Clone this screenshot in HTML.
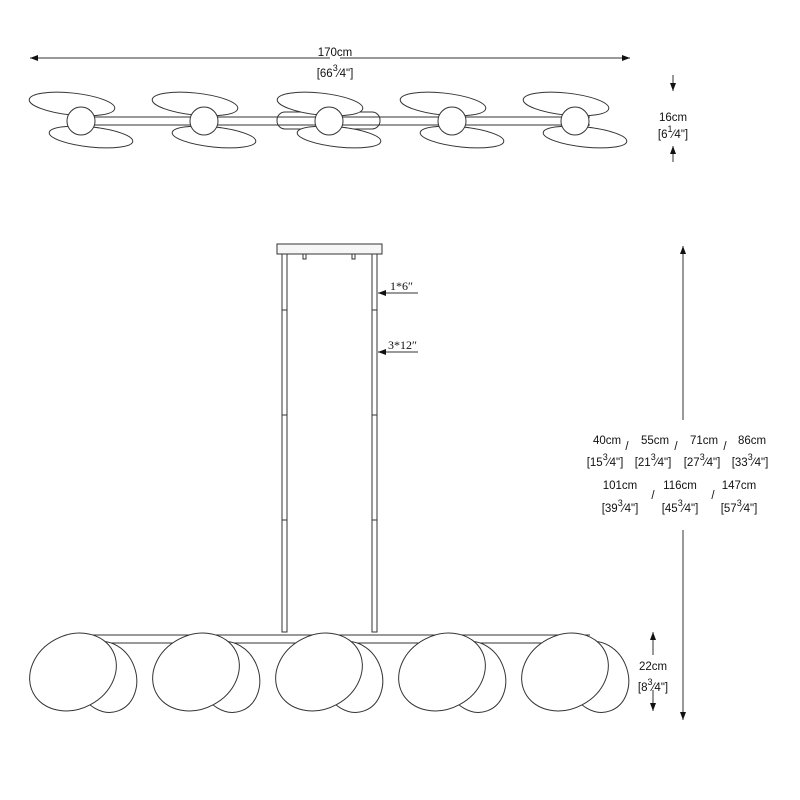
<!DOCTYPE html>
<html><head><meta charset="utf-8"><style>
html,body{margin:0;padding:0;background:#fff;}
svg{display:block;}
text{font-family:"Liberation Sans",Arial,sans-serif;font-size:11.5px;fill:#111;}
.s{font-family:"Liberation Serif",serif;font-size:12px;}
</style></head><body>
<svg width="800" height="800" viewBox="0 0 800 800" xmlns="http://www.w3.org/2000/svg">
<defs>
<marker id="a" markerWidth="8" markerHeight="6" refX="8" refY="3" orient="auto" markerUnits="userSpaceOnUse"><path d="M0,0 L8,3 L0,6 z" fill="#111"/></marker>
</defs>
<g fill="none" stroke="#333" stroke-width="1">
<line x1="330" y1="58" x2="30" y2="58" marker-end="url(#a)"/>
<line x1="340" y1="58" x2="630" y2="58" marker-end="url(#a)"/>
<line x1="80" y1="117" x2="590" y2="117"/>
<line x1="80" y1="125" x2="590" y2="125"/>
<rect x="277" y="112" width="103" height="17" rx="8"/>
<g id="f">
<ellipse cx="72" cy="104" rx="43" ry="11" transform="rotate(6 72 104)" fill="#fff"/>
<ellipse cx="91" cy="137" rx="42" ry="10" transform="rotate(6 91 137)" fill="#fff"/>
<circle cx="81" cy="121" r="14" fill="#fff"/>
</g>
<use href="#f" x="123"/>
<use href="#f" x="248"/>
<use href="#f" x="371"/>
<use href="#f" x="494"/>
<line x1="673" y1="75" x2="673" y2="91" marker-end="url(#a)"/>
<line x1="673" y1="162" x2="673" y2="146" marker-end="url(#a)"/>
<rect x="277" y="244" width="105" height="10" fill="#f6f6f6"/>
<path d="M303,254 v5 h3 v-5 M352,254 v5 h3 v-5"/>
<rect x="282" y="254" width="5" height="378"/>
<rect x="372" y="254" width="5" height="378"/>
<path d="M282,310 h5 M372,310 h5 M282,415 h5 M372,415 h5 M282,520 h5 M372,520 h5"/>
<line x1="418" y1="293" x2="378" y2="293" marker-end="url(#a)"/>
<line x1="418" y1="352" x2="378" y2="352" marker-end="url(#a)"/>
<line x1="80" y1="635" x2="590" y2="635"/>
<line x1="95" y1="643" x2="590" y2="643"/>
<g id="b">
<ellipse cx="106" cy="677" rx="30" ry="36" transform="rotate(-20 106 677)" fill="#fff"/>
<ellipse cx="73" cy="672" rx="45" ry="37" transform="rotate(-28 73 672)" fill="#fff"/>
</g>
<use href="#b" x="123"/>
<use href="#b" x="246"/>
<use href="#b" x="369"/>
<use href="#b" x="492"/>
<line x1="683" y1="420" x2="683" y2="246" marker-end="url(#a)"/>
<line x1="683" y1="530" x2="683" y2="720" marker-end="url(#a)"/>
<line x1="653" y1="655" x2="653" y2="632" marker-end="url(#a)"/>
<line x1="653" y1="690" x2="653" y2="711" marker-end="url(#a)"/>
</g>
<g text-anchor="middle">
<text x="335" y="56">170cm</text>
<text x="335" y="77">[66<tspan font-size="9" dy="-6">3</tspan><tspan dy="6">⁄4"]</tspan></text>
<text x="673" y="121">16cm</text>
<text x="673" y="138">[6<tspan font-size="9" dy="-6">1</tspan><tspan dy="6">⁄4"]</tspan></text>
<text x="653" y="670">22cm</text>
<text x="653" y="691">[8<tspan font-size="9" dy="-6">3</tspan><tspan dy="6">⁄4"]</tspan></text>
<text x="607" y="444">40cm</text><text x="605" y="466">[15<tspan font-size="9" dy="-6">3</tspan><tspan dy="6">⁄4"]</tspan></text>
<text x="655" y="444">55cm</text><text x="653" y="466">[21<tspan font-size="9" dy="-6">3</tspan><tspan dy="6">⁄4"]</tspan></text>
<text x="704" y="444">71cm</text><text x="702" y="466">[27<tspan font-size="9" dy="-6">3</tspan><tspan dy="6">⁄4"]</tspan></text>
<text x="752" y="444">86cm</text><text x="750" y="466">[33<tspan font-size="9" dy="-6">3</tspan><tspan dy="6">⁄4"]</tspan></text>
<text x="627" y="450">/</text><text x="676" y="450">/</text><text x="725" y="450">/</text>
<text x="620" y="489">101cm</text><text x="620" y="512">[39<tspan font-size="9" dy="-6">3</tspan><tspan dy="6">⁄4"]</tspan></text>
<text x="680" y="489">116cm</text><text x="680" y="512">[45<tspan font-size="9" dy="-6">3</tspan><tspan dy="6">⁄4"]</tspan></text>
<text x="739" y="489">147cm</text><text x="739" y="512">[57<tspan font-size="9" dy="-6">3</tspan><tspan dy="6">⁄4"]</tspan></text>
<text x="653" y="499">/</text><text x="713" y="499">/</text>
</g>
<text class="s" x="390" y="290">1*6″</text>
<text class="s" x="388" y="349">3*12″</text>
</svg>
</body></html>
